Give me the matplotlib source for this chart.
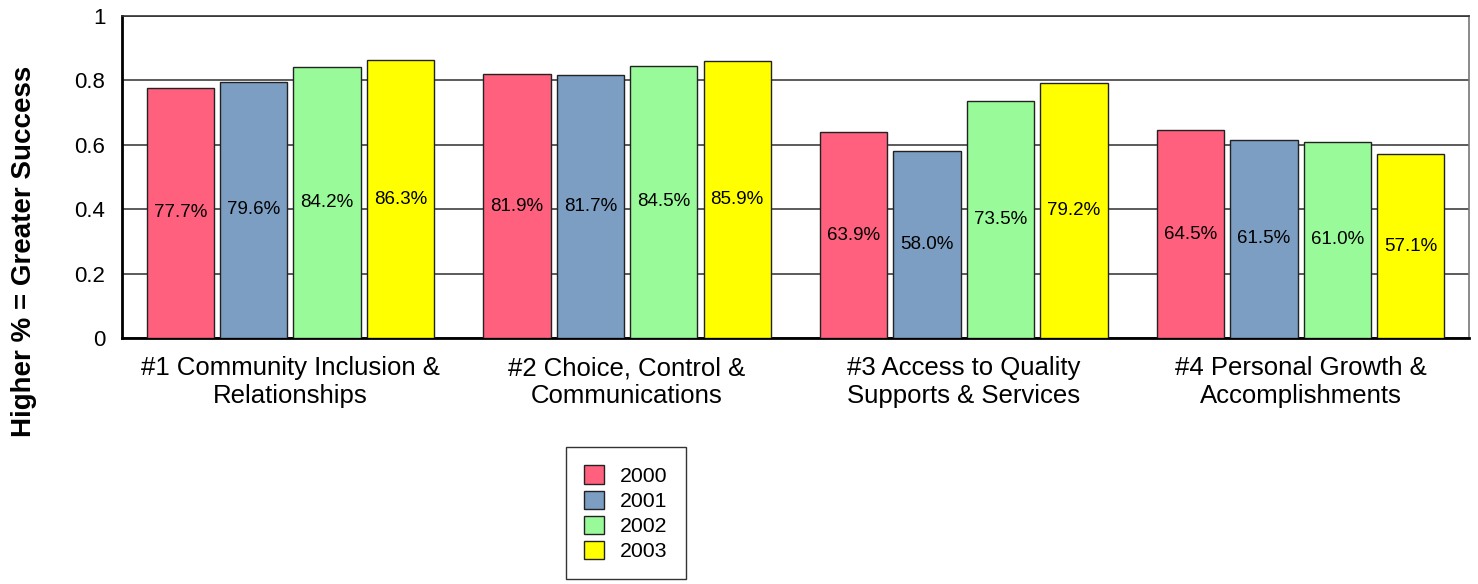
import numpy as np
import matplotlib.pyplot as plt

plt.rcParams['font.family'] = ['Liberation Sans', 'DejaVu Sans']

categories = ['#1 Community Inclusion &\nRelationships',
              '#2 Choice, Control &\nCommunications',
              '#3 Access to Quality\nSupports & Services',
              '#4 Personal Growth &\nAccomplishments']
years = ['2000', '2001', '2002', '2003']
v2000 = [0.777, 0.819, 0.639, 0.645]
v2001 = [0.796, 0.817, 0.580, 0.615]
v2002 = [0.842, 0.845, 0.735, 0.610]
v2003 = [0.863, 0.859, 0.792, 0.571]
colors = ['#FF607E', '#7B9EC2', '#99FA99', '#FFFF00']

series = [v2000, v2001, v2002, v2003]

fig = plt.figure(figsize=(14.78, 5.84), dpi=100)
ax = fig.add_axes([0.0825, 0.4212, 0.9114, 0.5514])

x = np.arange(len(categories))
step = 0.218
width = 0.2
for i, (vals, col, yr) in enumerate(zip(series, colors, years)):
    pos = x + (i - 1.5) * step
    ax.bar(pos, vals, width, color=col, edgecolor='#222222', linewidth=1, label=yr, zorder=3)
    for p, v in zip(pos, vals):
        ax.text(p, v / 2, '%.1f%%' % (v * 100), ha='center', va='center', fontsize=13.5, zorder=4)

ax.set_xlim(-0.5, len(categories) - 0.5)
ax.set_ylim(0, 1)
ax.set_yticks([0, 0.2, 0.4, 0.6, 0.8, 1])
ax.set_yticklabels(['0', '0.2', '0.4', '0.6', '0.8', '1'], fontsize=16)
ax.set_xticks(x)
ax.set_xticklabels(categories, fontsize=18.5, linespacing=1.22)
ax.tick_params(axis='both', length=0)
ax.tick_params(axis='y', pad=12)
ax.tick_params(axis='x', pad=13)
ax.yaxis.grid(True, color='#404040', linewidth=1.2, zorder=0)
ax.set_axisbelow(True)

for s in ['left', 'bottom']:
    ax.spines[s].set_linewidth(2)
    ax.spines[s].set_color('black')
ax.spines['top'].set_linewidth(1.2)
ax.spines['top'].set_color('#333333')
ax.spines['right'].set_linewidth(1.2)
ax.spines['right'].set_color('#777777')

fig.text(0.016, 0.57, 'Higher % = Greater Success', rotation=90, fontsize=20,
         fontweight='bold', ha='center', va='center')

leg = fig.legend(loc='center', bbox_to_anchor=(0.4235, 0.121), fontsize=15.3,
                 frameon=True, fancybox=False, handlelength=0.95, handleheight=0.95,
                 labelspacing=0.22, borderpad=0.85, handletextpad=0.75, borderaxespad=0)
leg.get_frame().set_edgecolor('black')
leg.get_frame().set_linewidth(1)

plt.savefig('out.png', dpi=100)
